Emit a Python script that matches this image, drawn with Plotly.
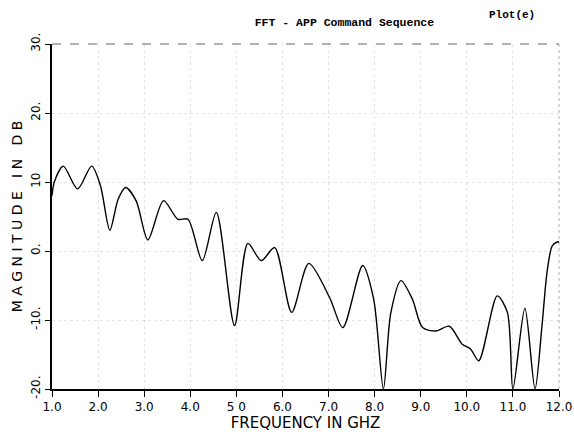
import plotly.graph_objects as go

freq_ghz = [1.0, 1.05, 1.245, 1.556, 1.86, 2.05, 2.255, 2.435, 2.60, 2.83, 3.08, 3.42, 3.73, 3.95,
            4.26, 4.565, 4.96, 5.25, 5.54, 5.83, 6.20, 6.57, 7.02, 7.31, 7.74, 7.98, 8.19, 8.35,
            8.57, 8.82, 9.04, 9.33, 9.62, 9.90, 10.08, 10.26, 10.66, 10.88, 11.0, 11.26, 11.48,
            11.63, 11.74, 11.85, 11.96, 12.0]
mag_db = [8.0, 10.0, 12.3, 9.0, 12.3, 9.5, 3.0, 7.5, 9.2, 7.2, 1.6, 7.3, 4.6, 4.6,
          -1.4, 5.6, -10.8, 1.1, -1.4, 0.5, -8.9, -1.8, -6.7, -11.1, -2.1, -7.0, -20.0, -9.0,
          -4.3, -7.0, -11.1, -11.6, -10.9, -13.5, -14.2, -15.9, -6.5, -8.9, -20.0, -8.3, -20.0,
          -10.9, -3.1, 0.7, 1.3, 1.3]

x_ticks = [1, 2, 3, 4, 5, 6, 7, 8, 9, 10, 11, 12]
x_tick_labels = ["1.0", "2.0", "3.0", "4.0", "5 0", "6.0", "7.0", "8.0", "9.0", "10.0", "11.0", "12.0"]
y_ticks = [-20, -10, 0, 10, 20, 30]
y_tick_labels = ["-20.", "-10.", "0.", "10", "20.", "30."]

fig = go.Figure()
fig.add_trace(go.Scatter(
    x=freq_ghz, y=mag_db, mode="lines",
    line=dict(color="black", width=1.4, shape="spline", smoothing=0.8),
    cliponaxis=True, showlegend=False,
))

axis_font = dict(family="DejaVu Sans", size=12, color="black")
fig.update_layout(
    width=574, height=435,
    margin=dict(l=52, r=15, t=44, b=46, autoexpand=False),
    paper_bgcolor="white", plot_bgcolor="white",
    title=dict(text="<b>FFT - APP Command Sequence</b>", x=0.60, xanchor="center",
               y=0.95, yanchor="middle",
               font=dict(family="Liberation Mono", size=11.5, color="black")),
    xaxis=dict(range=[1, 12], tickvals=x_ticks, ticktext=x_tick_labels,
               showline=True, linecolor="black", linewidth=1.5,
               ticks="outside", ticklen=6, tickcolor="black", tickwidth=1.2,
               showgrid=True, gridcolor="rgba(0,0,0,0.10)", griddash="dot", gridwidth=1,
               zeroline=False, tickfont=axis_font, automargin=False,
               title=dict(text="FREQUENCY IN GHZ", standoff=2,
                          font=dict(family="DejaVu Sans", size=15, color="black"))),
    yaxis=dict(range=[-20, 30], tickvals=y_ticks, ticktext=y_tick_labels, tickangle=-90,
               showline=True, linecolor="black", linewidth=1.5,
               ticks="outside", ticklen=5, tickcolor="black", tickwidth=1.2,
               showgrid=True, gridcolor="rgba(0,0,0,0.10)", griddash="dot", gridwidth=1,
               zeroline=False, tickfont=axis_font, automargin=False,
               title=dict(text="M A G N I T U D E   I N   D B", standoff=4,
                          font=dict(family="DejaVu Sans", size=14, color="black"))),
)
fig.add_shape(type="line", xref="paper", yref="paper", x0=0, x1=1, y0=1, y1=1,
              line=dict(color="rgba(0,0,0,0.6)", width=1.2, dash="dash"))
fig.add_shape(type="line", xref="paper", yref="paper", x0=1, x1=1, y0=0, y1=1,
              line=dict(color="rgba(0,0,0,0.3)", width=1, dash="dot"))
fig.add_annotation(text="<b>Plot(e)</b>", xref="paper", yref="paper", x=0.907, y=1.084,
                   xanchor="center", yanchor="middle",
                   showarrow=False, font=dict(family="Liberation Mono", size=11, color="black"))

fig.write_html("out.html")
